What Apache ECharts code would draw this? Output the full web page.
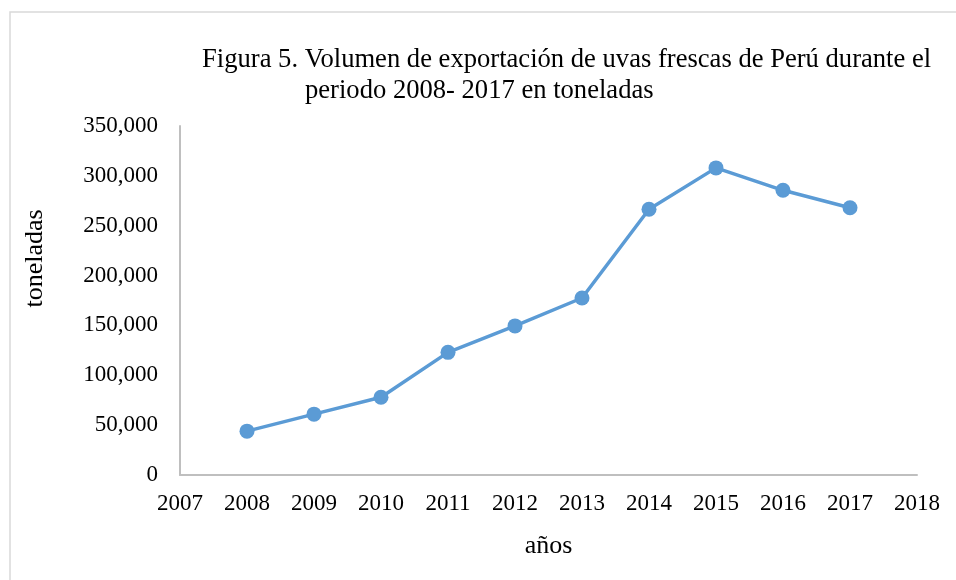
<!DOCTYPE html>
<html>
<head>
    <meta charset="utf-8"/>
    <title>Volumen de exportación de uvas frescas</title>
    <style>
        html, body { margin: 0; padding: 0; background: #fff; }
    </style>
</head>
<body>
<div id="chart" style="width:956px;height:580px"></div>
<script src="https://cdn.jsdelivr.net/npm/echarts@6/dist/echarts.min.js"></script>
<script type="text/javascript">
    // años y toneladas
    var years = [2008, 2009, 2010, 2011, 2012, 2013, 2014, 2015, 2016, 2017];
    var tons = [44000, 61000, 78000, 123000, 149500, 177500, 266500, 308000, 285500, 268000];

    var serif = '"Liberation Serif", "DejaVu Serif", serif';

    var chart = echarts.init(document.getElementById('chart'));
    chart.setOption({
        animation: false,
        graphic: [{
            type: 'rect',
            shape: { x: 10, y: 12, width: 960, height: 590 },
            style: { fill: 'none', stroke: '#d9d9d9', lineWidth: 1.5 },
            silent: true
        }],
        title: [{
            text: 'Figura 5. Volumen de exportación de uvas frescas de Perú durante el',
            left: 197,
            top: 42,
            textStyle: { fontFamily: serif, fontSize: 26.6, fontWeight: 'normal', color: '#000' }
        }, {
            text: 'periodo 2008- 2017 en toneladas',
            left: 300,
            top: 73,
            textStyle: { fontFamily: serif, fontSize: 26.6, fontWeight: 'normal', color: '#000' }
        }],
        grid: {
            left: 180,
            right: 39,
            top: 126,
            bottom: 105,
            containLabel: false
        },
        xAxis: {
            type: 'value',
            min: 2007,
            max: 2018,
            interval: 1,
            name: 'años',
            nameLocation: 'middle',
            nameGap: 58,
            nameTextStyle: { fontFamily: serif, fontSize: 26, color: '#000' },
            axisLine: { show: true, lineStyle: { color: '#bfbfbf', width: 2 } },
            axisTick: { show: false },
            splitLine: { show: false },
            axisLabel: {
                fontFamily: serif, fontSize: 23, color: '#000', margin: 17,
                formatter: function (v) { return String(v); }
            }
        },
        yAxis: {
            type: 'value',
            min: 0,
            max: 350000,
            interval: 50000,
            name: 'toneladas',
            nameLocation: 'middle',
            nameRotate: 90,
            nameGap: 132,
            nameTextStyle: { fontFamily: serif, fontSize: 26, color: '#000', padding: [0, 0, 0, 84] },
            axisLine: { show: true, lineStyle: { color: '#bfbfbf', width: 2 } },
            axisTick: { show: false },
            splitLine: { show: false },
            axisLabel: {
                fontFamily: serif, fontSize: 23, color: '#000', margin: 22,
                formatter: function (v) { return v.toLocaleString('en-US'); }
            }
        },
        series: [{
            type: 'line',
            data: years.map(function (y, i) { return [y, tons[i]]; }),
            symbol: 'circle',
            symbolSize: 15,
            lineStyle: { color: '#5b9bd5', width: 3.5 },
            itemStyle: { color: '#5b9bd5' }
        }]
    });
</script>
</body>
</html>
